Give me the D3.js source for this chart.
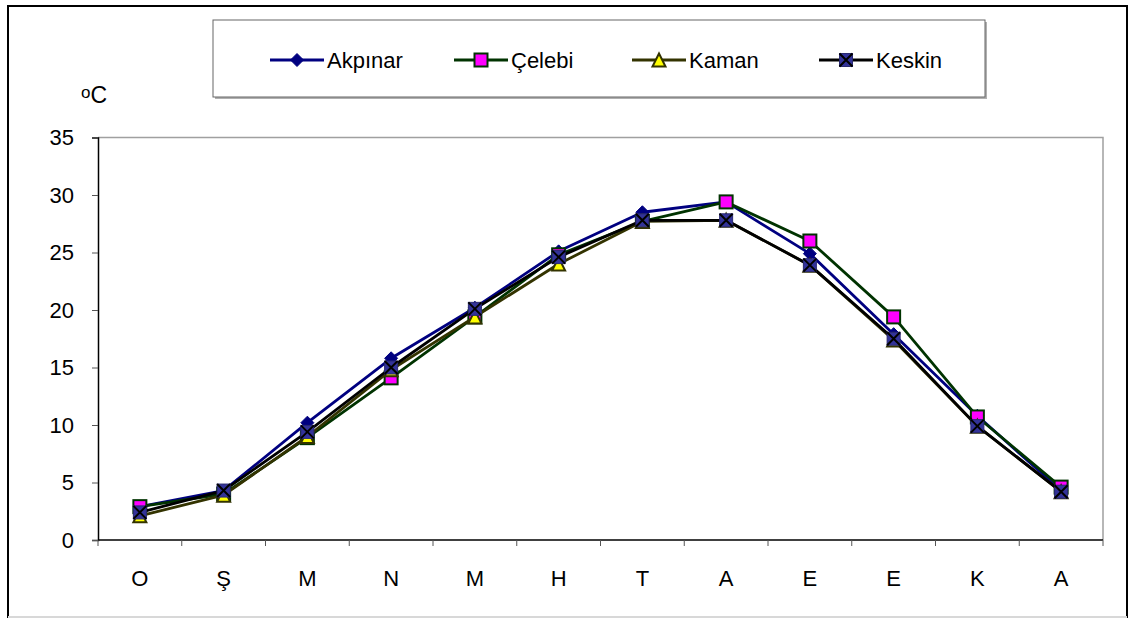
<!DOCTYPE html>
<html>
<head>
<meta charset="utf-8">
<script src="https://cdn.jsdelivr.net/npm/d3@7"></script>
<style>
  html, body { margin: 0; padding: 0; background: #fff; }
  svg { display: block; font-family: "Liberation Sans", Arial, sans-serif; }
</style>
</head>
<body>
<svg id="chart" width="1131" height="619"></svg>
<script>
// Monthly mean temperatures (°C) for four stations
const months = ["O", "Ş", "M", "N", "M", "H", "T", "A", "E", "E", "K", "A"];
const akpinar = [2.9, 4.3, 10.2, 15.8, 20.2, 25.1, 28.5, 29.4, 24.9, 17.9, 10.8, 4.3];
const celebi  = [2.9, 4.0, 8.9, 14.1, 19.4, 24.8, 27.7, 29.4, 26.0, 19.4, 10.7, 4.6];
const kaman   = [2.1, 3.9, 9.0, 14.8, 19.4, 24.0, 27.7, 27.8, 23.9, 17.4, 9.9, 4.2];
const keskin  = [2.4, 4.3, 9.4, 15.0, 20.1, 24.6, 27.8, 27.8, 23.9, 17.5, 9.9, 4.2];
const yTicks = [0, 5, 10, 15, 20, 25, 30, 35];
const seriesNames = ["Akpınar", "Çelebi", "Kaman", "Keskin"];

const series = [
  { name: seriesNames[0], values: akpinar, line: "#000080", marker: "diamond", fill: "#000080", stroke: "#000080" },
  { name: seriesNames[1], values: celebi,  line: "#003300", marker: "square",  fill: "#FF00FF", stroke: "#003300" },
  { name: seriesNames[2], values: kaman,   line: "#333300", marker: "triangle", fill: "#FFFF00", stroke: "#333300" },
  { name: seriesNames[3], values: keskin,  line: "#000000", marker: "xsquare", fill: "#333399", stroke: "#000000" }
];

const svg = d3.select("#chart");

// outer chart frame
svg.append("rect").attr("x", 8).attr("y", 6).attr("width", 1119).attr("height", 611)
  .attr("fill", "#fff").attr("stroke", "#000").attr("stroke-width", 2);
svg.append("line").attr("x1", 8).attr("x2", 1127).attr("y1", 617).attr("y2", 617)
  .attr("stroke", "#d8d8d8").attr("stroke-width", 2);

const plot = { left: 98, right: 1103, top: 137.5, bottom: 540 };

const x = d3.scaleBand().domain(d3.range(months.length)).range([plot.left, plot.right]);
const y = d3.scaleLinear().domain([0, 35]).range([plot.bottom, plot.top]);

// plot area border (top and right in grey)
svg.append("path")
  .attr("d", `M${plot.left},${plot.top}H${plot.right}V${plot.bottom}`)
  .attr("fill", "none").attr("stroke", "#a0a0a0").attr("stroke-width", 1.5);

// y axis
const yAxis = svg.append("g").attr("transform", `translate(${plot.left},0)`)
  .call(d3.axisLeft(y).tickValues(yTicks).tickSize(6).tickPadding(18).tickFormat(d3.format("d")));
yAxis.select(".domain").attr("stroke", "#000").attr("stroke-width", 1.5);
yAxis.selectAll(".tick line").attr("stroke", "#555");
yAxis.selectAll(".tick text").attr("font-size", 22).attr("fill", "#000")
  .attr("font-family", "Liberation Sans, Arial, sans-serif");

// x axis: ticks sit on the category boundaries
const xAxisG = svg.append("g").attr("transform", `translate(0,${plot.bottom})`);
xAxisG.append("line").attr("x1", plot.left).attr("x2", plot.right)
  .attr("stroke", "#000").attr("stroke-width", 1.5);
const bounds = d3.range(months.length + 1).map(i => i < months.length ? x(i) : plot.right);
xAxisG.selectAll("line.tk").data(bounds).join("line").attr("class", "tk")
  .attr("x1", d => d).attr("x2", d => d).attr("y1", 0).attr("y2", 6)
  .attr("stroke", "#555");
xAxisG.selectAll("text").data(months).join("text")
  .attr("x", (d, i) => x(i) + x.bandwidth() / 2).attr("y", 46)
  .attr("text-anchor", "middle").attr("font-size", 22).attr("fill", "#000")
  .text(d => d);

// unit label
const unit = svg.append("text").attr("x", 81).attr("y", 103).attr("font-size", 23).attr("fill", "#000");
unit.append("tspan").attr("font-size", 17).attr("dy", -5).text("o");
unit.append("tspan").attr("dy", 5).text("C");

// markers
function drawMarker(g, s, cx, cy) {
  const r = 6.5;
  if (s.marker === "diamond") {
    g.append("path").attr("d", `M${cx},${cy - r}L${cx + r},${cy}L${cx},${cy + r}L${cx - r},${cy}Z`)
      .attr("fill", s.fill).attr("stroke", s.stroke).attr("stroke-width", 1);
  } else if (s.marker === "square") {
    g.append("rect").attr("x", cx - r).attr("y", cy - r).attr("width", 2 * r).attr("height", 2 * r)
      .attr("fill", s.fill).attr("stroke", s.stroke).attr("stroke-width", 2);
  } else if (s.marker === "triangle") {
    g.append("path").attr("d", `M${cx},${cy - r}L${cx + r},${cy + r}L${cx - r},${cy + r}Z`)
      .attr("fill", s.fill).attr("stroke", s.stroke).attr("stroke-width", 2);
  } else {
    g.append("rect").attr("x", cx - r).attr("y", cy - r).attr("width", 2 * r).attr("height", 2 * r)
      .attr("fill", s.fill).attr("stroke", "#2a2a70").attr("stroke-width", 1);
    g.append("path").attr("d", `M${cx - r},${cy - r}L${cx + r},${cy + r}M${cx + r},${cy - r}L${cx - r},${cy + r}`)
      .attr("stroke", "#000").attr("stroke-width", 2);
  }
}

const line = d3.line().x((d, i) => x(i) + x.bandwidth() / 2).y(d => y(d));
series.forEach(s => {
  const g = svg.append("g");
  g.append("path").datum(s.values).attr("d", line)
    .attr("fill", "none").attr("stroke", s.line).attr("stroke-width", 2.8)
    .attr("stroke-linejoin", "round");
  s.values.forEach((v, i) => drawMarker(g, s, x(i) + x.bandwidth() / 2, y(v)));
});

// legend
const legend = svg.append("g");
legend.append("rect").attr("x", 215).attr("y", 22).attr("width", 772).attr("height", 77)
  .attr("fill", "#b0b0b0");
legend.append("rect").attr("x", 213).attr("y", 20).attr("width", 772).attr("height", 77)
  .attr("fill", "#fff").attr("stroke", "#666").attr("stroke-width", 1);
const legendMarkerX = [297, 481, 659, 846];
series.forEach((s, i) => {
  const lg = legend.append("g");
  const mx = legendMarkerX[i], ly = 60;
  lg.append("line").attr("x1", mx - 27).attr("x2", mx + 27).attr("y1", ly).attr("y2", ly)
    .attr("stroke", s.line).attr("stroke-width", 2.8);
  drawMarker(lg, s, mx, ly);
  lg.append("text").attr("x", mx + 30).attr("y", ly + 8).attr("font-size", 22).attr("fill", "#000")
    .text(s.name);
});
</script>
</body>
</html>
